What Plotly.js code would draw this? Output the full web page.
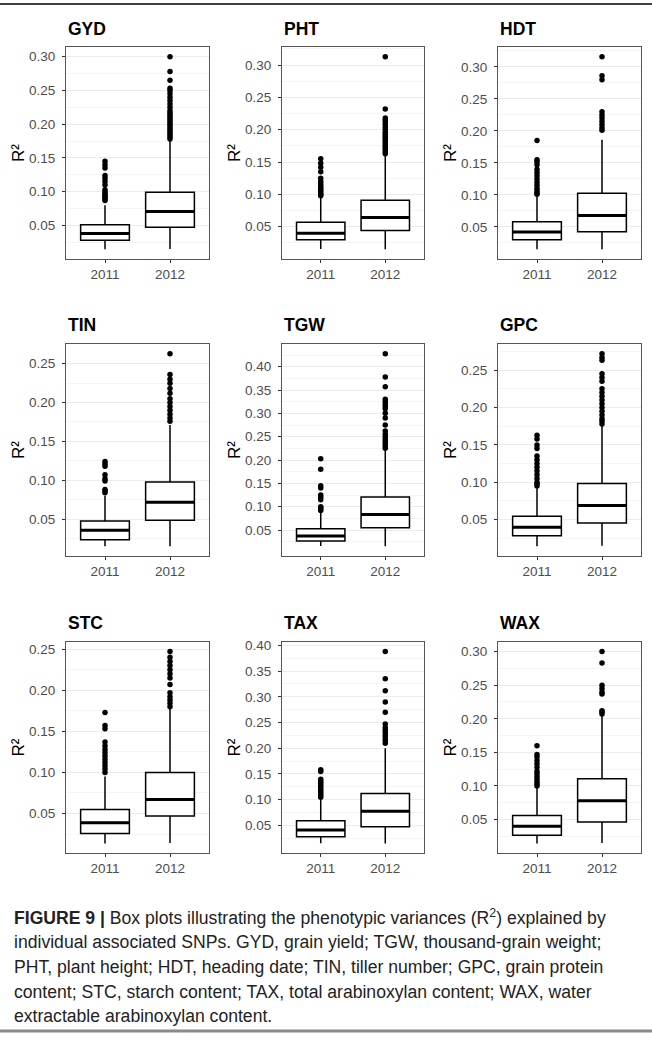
<!DOCTYPE html>
<html>
<head>
<meta charset="utf-8">
<script src="https://cdn.plot.ly/plotly-3.0.1.min.js"></script>
<style>html,body{margin:0;padding:0;background:#fff;}#chart{width:652px;height:1041px;}</style>
</head>
<body>
<div id="chart"></div>
<script>
// ---- data ----
const traits = ['GYD','PHT','HDT','TIN','TGW','GPC','STC','TAX','WAX'];
const years = ['2011','2012'];

const q1_2011  = [0.028, 0.030, 0.030, 0.0234, 0.0265, 0.0286, 0.0258, 0.0281, 0.0268];
const med_2011 = [0.038, 0.040, 0.042, 0.0354, 0.0373, 0.0397, 0.0387, 0.041, 0.0401];
const q3_2011  = [0.051, 0.057, 0.058, 0.0474, 0.0528, 0.0545, 0.0548, 0.059, 0.0559];
const lo_2011  = [0.0146, 0.0155, 0.0152, 0.0148, 0.0159, 0.0143, 0.0136, 0.0152, 0.0145];
const hi_2011  = [0.080, 0.095, 0.098, 0.080, 0.089, 0.092, 0.095, 0.102, 0.098];

const q1_2012  = [0.0475, 0.044, 0.0427, 0.0483, 0.055, 0.0455, 0.0468, 0.0474, 0.0465];
const med_2012 = [0.0707, 0.0644, 0.068, 0.0715, 0.0834, 0.0688, 0.067, 0.0777, 0.0781];
const q3_2012  = [0.099, 0.091, 0.1025, 0.0976, 0.121, 0.0982, 0.100, 0.112, 0.1107];
const lo_2012  = [0.015, 0.015, 0.015, 0.015, 0.015, 0.015, 0.014, 0.015, 0.015];
const hi_2012  = [0.175, 0.160, 0.186, 0.171, 0.220, 0.176, 0.178, 0.200, 0.205];

const out_2011 = [
  [0.087,0.089,0.091,0.093,0.095,0.097,0.1,0.103,0.11,0.115,0.12,0.124,0.135,0.14,0.145],
  [0.098,0.1,0.102,0.105,0.108,0.11,0.113,0.116,0.12,0.125,0.135,0.142,0.148,0.155],
  [0.101,0.103,0.106,0.11,0.115,0.12,0.125,0.13,0.135,0.14,0.147,0.152,0.155,0.185],
  [0.084,0.086,0.088,0.099,0.102,0.107,0.118,0.121,0.124],
  [0.092,0.095,0.098,0.1,0.115,0.12,0.125,0.14,0.145,0.18,0.203],
  [0.095,0.098,0.1,0.105,0.11,0.115,0.12,0.125,0.13,0.135,0.145,0.15,0.158,0.163],
  [0.1,0.104,0.108,0.112,0.116,0.12,0.124,0.128,0.132,0.137,0.153,0.157,0.173],
  [0.105,0.108,0.112,0.116,0.12,0.124,0.128,0.132,0.136,0.14,0.155,0.158],
  [0.1,0.103,0.106,0.11,0.114,0.118,0.122,0.128,0.133,0.138,0.143,0.147,0.16]
];
const out_2012 = [
  [0.178,0.181,0.184,0.187,0.19,0.193,0.196,0.199,0.202,0.205,0.208,0.211,0.214,0.217,0.22,0.225,0.23,0.235,0.24,0.245,0.25,0.253,0.265,0.278,0.30],
  [0.163,0.166,0.169,0.172,0.175,0.178,0.181,0.184,0.187,0.19,0.193,0.196,0.2,0.204,0.208,0.212,0.215,0.218,0.232,0.313],
  [0.201,0.205,0.21,0.215,0.22,0.225,0.23,0.28,0.286,0.316],
  [0.176,0.18,0.185,0.19,0.195,0.2,0.205,0.212,0.218,0.225,0.23,0.236,0.263],
  [0.225,0.23,0.235,0.24,0.245,0.25,0.255,0.262,0.275,0.29,0.3,0.31,0.315,0.32,0.325,0.33,0.357,0.378,0.428],
  [0.178,0.182,0.185,0.19,0.195,0.2,0.205,0.21,0.215,0.22,0.225,0.235,0.24,0.245,0.263,0.267,0.272],
  [0.18,0.184,0.188,0.192,0.197,0.207,0.215,0.22,0.225,0.23,0.235,0.24,0.247],
  [0.21,0.215,0.22,0.225,0.23,0.235,0.24,0.247,0.27,0.29,0.312,0.335,0.388],
  [0.207,0.21,0.212,0.237,0.24,0.245,0.25,0.283,0.30]
];

const tickVals = [0.05,0.10,0.15,0.20,0.25,0.30,0.35,0.40,0.45];
const tickText = ['0.05','0.10','0.15','0.20','0.25','0.30','0.35','0.40','0.45'];
const minorVals = [0.025,0.075,0.125,0.175,0.225,0.275,0.325,0.375,0.425];
const yTitle = 'R²';

const captionLines = [
  '<b>FIGURE 9 |</b> Box plots illustrating the phenotypic variances (R<sup>2</sup>) explained by',
  'individual associated SNPs. GYD, grain yield; TGW, thousand-grain weight;',
  'PHT, plant height; HDT, heading date; TIN, tiller number; GPC, grain protein',
  'content; STC, starch content; TAX, total arabinoxylan content; WAX, water',
  'extractable arabinoxylan content.'
];

// ---- layout geometry (pixels) ----
const W = 652, H = 1041;
const colX = [[66,209],[282,424],[498,641]];
const rowY = [[47,259],[344,556],[642,853]];
const titleY = [29, 325, 623];
const capY = [917, 942, 967, 992, 1016];
const px = v => v / W;
const py = v => 1 - v / H;

const traces = [];
const layout = {
  width: W, height: H,
  margin: {l:0, r:0, t:0, b:0},
  paper_bgcolor: '#fff', plot_bgcolor: '#fff',
  showlegend: false,
  boxmode: 'overlay',
  font: {family: 'Liberation Sans, Arial, sans-serif', color: '#000'},
  annotations: [],
  shapes: [
    {type:'line', xref:'paper', yref:'paper', x0:0, x1:1, y0:py(4), y1:py(4), line:{color:'#000', width:1.5}},
    {type:'line', xref:'paper', yref:'paper', x0:0, x1:1, y0:py(1031), y1:py(1031), line:{color:'#8a8a8a', width:3}}
  ]
};

traits.forEach((t, i) => {
  const n = i + 1;
  const r = Math.floor(i / 3), c = i % 3;
  const xa = 'x' + n, ya = 'y' + n;
  const xk = 'xaxis' + (n === 1 ? '' : n), yk = 'yaxis' + (n === 1 ? '' : n);

  const allMin = Math.min(lo_2011[i], lo_2012[i]);
  const allMax = Math.max(hi_2011[i], hi_2012[i], ...out_2011[i], ...out_2012[i]);
  const pad = (allMax - allMin) * 0.05;

  traces.push({
    type: 'box', x: years, xaxis: xa, yaxis: ya,
    q1: [q1_2011[i], q1_2012[i]],
    median: [med_2011[i], med_2012[i]],
    q3: [q3_2011[i], q3_2012[i]],
    lowerfence: [lo_2011[i], lo_2012[i]],
    upperfence: [hi_2011[i], hi_2012[i]],
    boxpoints: false, width: 0.75, whiskerwidth: 0,
    fillcolor: '#fff', line: {color: '#000', width: 1.5},
    hoverinfo: 'skip'
  });
  // thicker median line
  const meds = [med_2011[i], med_2012[i]];
  traces.push({
    type: 'box', x: years, xaxis: xa, yaxis: ya,
    q1: meds, median: meds, q3: meds, lowerfence: meds, upperfence: meds,
    boxpoints: false, width: 0.75, whiskerwidth: 0,
    fillcolor: 'rgba(0,0,0,0)', line: {color: '#000', width: 3},
    hoverinfo: 'skip'
  });
  // outliers
  traces.push({
    type: 'scatter', mode: 'markers', xaxis: xa, yaxis: ya,
    x: out_2011[i].map(() => years[0]).concat(out_2012[i].map(() => years[1])),
    y: out_2011[i].concat(out_2012[i]),
    marker: {color: '#000', size: 5.5},
    hoverinfo: 'skip'
  });

  layout[xk] = {
    domain: [px(colX[c][0]), px(colX[c][1])],
    anchor: ya, type: 'category', categoryorder: 'array', categoryarray: years,
    range: [-0.6, 1.6], showgrid: false, zeroline: false,
    showline: true, mirror: true, linecolor: '#555', linewidth: 1,
    ticks: 'outside', ticklen: 3, tickwidth: 1, tickcolor: '#333',
    tickfont: {size: 13.5, color: '#4d4d4d'}
  };
  layout[yk] = {
    domain: [py(rowY[r][1]), py(rowY[r][0])],
    anchor: xa, range: [allMin - pad, allMax + pad],
    tickmode: 'array', tickvals: tickVals, ticktext: tickText,
    showgrid: true, gridcolor: '#ebebeb', gridwidth: 1, zeroline: false,
    minor: {tickmode: 'array', tickvals: minorVals, showgrid: true, gridcolor: '#f4f4f4', gridwidth: 1, ticks: ''},
    showline: true, mirror: true, linecolor: '#555', linewidth: 1,
    ticks: 'outside', ticklen: 3, tickwidth: 1, tickcolor: '#333',
    ticklabelstandoff: 4,
    tickfont: {size: 13.5, color: '#4d4d4d'}
  };

  layout.annotations.push({
    xref: 'paper', yref: 'paper', x: px(colX[c][0]), y: py(titleY[r]),
    xanchor: 'left', yanchor: 'middle', showarrow: false,
    text: '<b>' + t + '</b>', font: {size: 17.5, color: '#000'}
  });
  layout.annotations.push({
    xref: 'paper', yref: 'paper', x: px(colX[c][0] - 48), y: py((rowY[r][0] + rowY[r][1]) / 2),
    xanchor: 'center', yanchor: 'middle', showarrow: false, textangle: -90,
    text: yTitle, font: {size: 17, color: '#000'}
  });
});

captionLines.forEach((txt, k) => {
  layout.annotations.push({
    xref: 'paper', yref: 'paper', x: px(12), y: py(capY[k]),
    xanchor: 'left', yanchor: 'middle', showarrow: false, align: 'left',
    text: txt, font: {size: 17.6, color: '#222', family: 'Liberation Sans, Arial, sans-serif'}
  });
});

Plotly.newPlot('chart', traces, layout, {displayModeBar: false, staticPlot: true});
</script>
</body>
</html>
